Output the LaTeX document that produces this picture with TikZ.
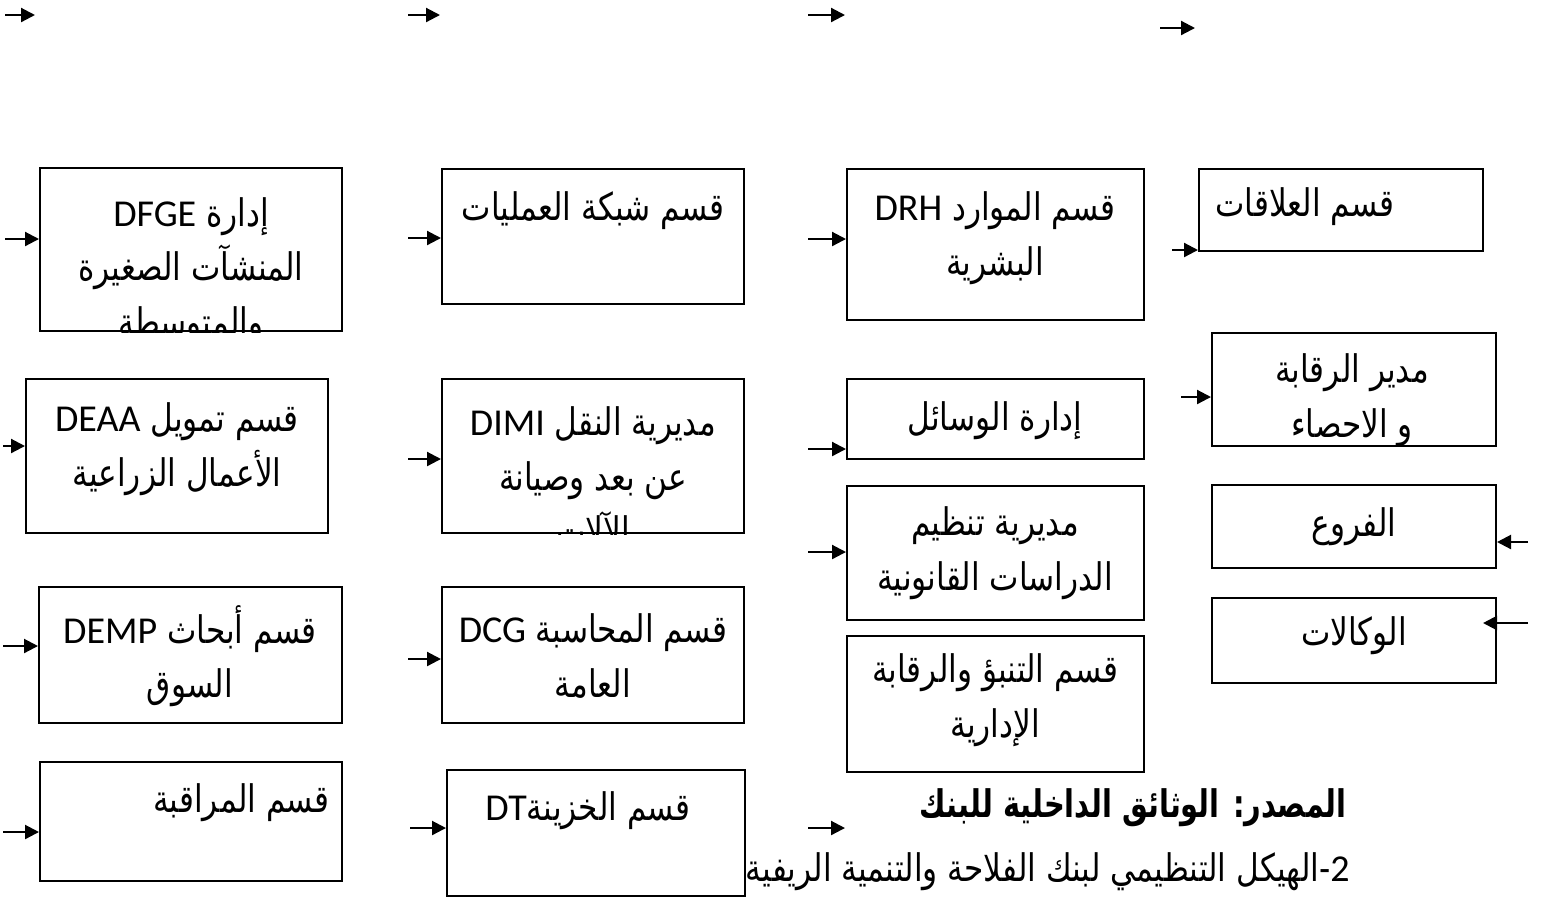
\documentclass[tikz,border=0pt]{standalone}
\usepackage{fontspec}
\usetikzlibrary{arrows.meta}
\TeXXeTstate=1
\newfontfamily\ar[Script=Arabic,FakeStretch=0.82]{DejaVu Sans}
\newfontfamily\arb[Script=Arabic,FakeStretch=0.76]{DejaVu Sans}
\newfontfamily\lat{Carlito}
\newcommand\lt[1]{{\lat\beginL #1\endL}}
\newcommand\R[1]{\beginR #1\endR}
\begin{document}
\begin{tikzpicture}[x=0.5pt,y=-0.5pt,
  box/.style={draw, line width=1pt, fill=white, inner sep=0pt},
  txt/.style={font=\ar\fontsize{19}{27.3}\selectfont, align=center, inner sep=0pt},
  bold/.style={font=\arb\bfseries\fontsize{19}{27}\selectfont, inner sep=0pt},
  arr/.style={line width=1.1pt, -{Triangle[length=7pt,width=7pt]}}]
\path[use as bounding box, fill=white] (0,0) rectangle (1541,918);

% captions
\node[bold, anchor=east] (cap1) at (1347,808) {\R{المصدر: الوثائق الداخلية للبنك}};
\node[txt, anchor=east] (cap2) at (1350,872) {\R{\lt{2}-الهيكل التنظيمي لبنك الفلاحة والتنمية الريفية وكالة}};

% column 1
\node[box, minimum width=151pt, minimum height=81.5pt] (b11) at (191,249.5) {};
\node[box, minimum width=151pt, minimum height=77pt] (b12) at (177,456) {};
\node[box, minimum width=151.5pt, minimum height=68pt] (b13) at (190.5,655) {};
\node[box, minimum width=151pt, minimum height=59.5pt] (b14) at (191,821.5) {};
% column 2
\node[box, minimum width=151pt, minimum height=67.5pt] (b21) at (593,236.5) {};
\node[box, minimum width=151pt, minimum height=77pt] (b22) at (593,456) {};
\node[box, minimum width=151pt, minimum height=68pt] (b23) at (593,655) {};
\node[box, minimum width=149pt, minimum height=63pt] (b24) at (596,833) {};
% column 3
\node[box, minimum width=148.5pt, minimum height=75.5pt] (b31) at (995.5,244.5) {};
\node[box, minimum width=148.5pt, minimum height=40pt] (b32) at (995.5,419) {};
\node[box, minimum width=148.5pt, minimum height=67pt] (b33) at (995.5,553) {};
\node[box, minimum width=148.5pt, minimum height=68pt] (b34) at (995.5,704) {};
% column 4
\node[box, minimum width=142pt, minimum height=41pt] (b41) at (1341,210) {};
\node[box, minimum width=142pt, minimum height=56.5pt] (b42) at (1354,389.5) {};
\node[box, minimum width=142pt, minimum height=41.5pt] (b43) at (1354,526.5) {};
\node[box, minimum width=142pt, minimum height=42.5pt] (b44) at (1354,640.5) {};

% texts
\begin{scope}
\clip (b11.south west) rectangle (b11.north east);
\node[txt] (t11) at (191,271) {\R{إدارة  \lt{DFGE}}\\\R{المنشآت الصغيرة}\\\R{والمتوسطة}};
\end{scope}
\node[txt] (t12) at (177,449) {\R{قسم تمويل  \lt{DEAA}}\\\R{الأعمال الزراعية}};
\node[txt] (t13) at (190,656) {\R{قسم أبحاث \lt{DEMP}}\\\R{السوق}};
\node[txt, anchor=east] (t14) at (330,803) {\R{قسم المراقبة}};
\node[txt] (t21) at (593,211) {\R{قسم شبكة العمليات}};
\begin{scope}
\clip (b22.south west) rectangle (b22.north east);
\node[txt] (t22) at (593,476) {\R{مديرية النقل  \lt{DIMI}}\\\R{عن بعد وصيانة}\\\R{الآلات}};
\end{scope}
\node[txt] (t23) at (593,656) {\R{قسم المحاسبة \lt{DCG}}\\\R{العامة}};
\node[txt] (t24) at (588,811) {\R{قسم الخزينة\lt{DT}}};
\node[txt] (t31) at (995,238) {\R{قسم الموارد \lt{DRH}}\\\R{البشرية}};
\node[txt] (t32) at (995,421) {\R{إدارة الوسائل}};
\node[txt] (t33) at (995,553) {\R{مديرية تنظيم}\\\R{الدراسات القانونية}};
\node[txt] (t34) at (995,700) {\R{قسم التنبؤ والرقابة}\\\R{الإدارية}};
\node[txt] (t41) at (1305,207) {\R{قسم العلاقات}};
\node[txt] (t42) at (1352,400) {\R{مدير الرقابة}\\\R{و الاحصاء}};
\node[txt] (t43) at (1354,527) {\R{الفروع}};
\node[txt] (t44) at (1354,636) {\R{الوكالات}};

% arrow start points
\coordinate (a11) at (5,239);
\coordinate (a12) at (3,446);
\coordinate (a13) at (3,646);
\coordinate (a14) at (3,832);
\coordinate (a21) at (408,238);
\coordinate (a22) at (408,459);
\coordinate (a23) at (408,659);
\coordinate (a24) at (410,828);
\coordinate (a31) at (808,239);
\coordinate (a32) at (808,449);
\coordinate (a33) at (808,552);
\coordinate (a41) at (1172,250);
\coordinate (a42) at (1181,397);
\coordinate (a43) at (1528,542);
\coordinate (a44) at (1528,623);
\coordinate (e44) at (1483,623);

\draw[arr] (a11) -- (a11 -| b11.west);
\draw[arr] (a12) -- (a12 -| b12.west);
\draw[arr] (a13) -- (a13 -| b13.west);
\draw[arr] (a14) -- (a14 -| b14.west);
\draw[arr] (a21) -- (a21 -| b21.west);
\draw[arr] (a22) -- (a22 -| b22.west);
\draw[arr] (a23) -- (a23 -| b23.west);
\draw[arr] (a24) -- (a24 -| b24.west);
\draw[arr] (a31) -- (a31 -| b31.west);
\draw[arr] (a32) -- (a32 -| b32.west);
\draw[arr] (a33) -- (a33 -| b33.west);
\draw[arr] (a41) -- (a41 -| b41.west);
\draw[arr] (a42) -- (a42 -| b42.west);
\draw[arr] (a43) -- (a43 -| b43.east);
\draw[arr] (a44) -- (e44);

% free arrows
\coordinate (f1s) at (5,15);    \coordinate (f1e) at (35,15);
\coordinate (f2s) at (408,15);  \coordinate (f2e) at (440,15);
\coordinate (f3s) at (808,15);  \coordinate (f3e) at (845,15);
\coordinate (f4s) at (1160,28); \coordinate (f4e) at (1195,28);
\coordinate (f5s) at (808,828); \coordinate (f5e) at (845,828);
\draw[arr] (f1s) -- (f1e);
\draw[arr] (f2s) -- (f2e);
\draw[arr] (f3s) -- (f3e);
\draw[arr] (f4s) -- (f4e);
\draw[arr] (f5s) -- (f5e);
\end{tikzpicture}
\end{document}
